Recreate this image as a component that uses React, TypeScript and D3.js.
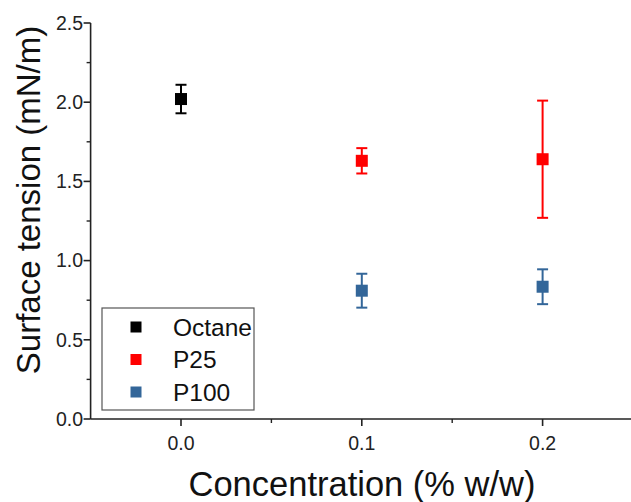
import React from "react";
import * as d3 from "d3";

const seriesNames = ["Octane", "P25", "P100"];
const seriesColors = ["#000000", "#ff0000", "#336699"];
const octaneX = [0.0];
const octaneY = [2.02];
const octaneErr = [0.09];
const p25X = [0.1, 0.2];
const p25Y = [1.63, 1.64];
const p25Err = [0.08, 0.37];
const p100X = [0.1, 0.2];
const p100Y = [0.81, 0.835];
const p100Err = [0.107, 0.11];
const xMajorTicks = [0.0, 0.1, 0.2];
const xMinorTicks = [0.05, 0.15];
const yMajorTicks = [0.0, 0.5, 1.0, 1.5, 2.0, 2.5];
const yMinorTicks = [0.25, 0.75, 1.25, 1.75, 2.25];
const xTitle = "Concentration (% w/w)";
const yTitle = "Surface tension (mN/m)";

const W = 631;
const H = 502;
const FONT = "Arial, 'Liberation Sans', Helvetica, sans-serif";

export default function App() {
  const x = d3.scaleLinear().domain([-0.05, 0.25]).range([90.6, 90.6 + 0.3 * 1808]);
  const y = d3.scaleLinear().domain([0, 2.5]).range([419, 23]);
  const axisColor = "#222";

  const series = [
    { xs: octaneX, ys: octaneY, es: octaneErr },
    { xs: p25X, ys: p25Y, es: p25Err },
    { xs: p100X, ys: p100Y, es: p100Err },
  ];

  const m = 12;
  const cap = 11;

  return (
    <svg width={W} height={H} style={{ position: "absolute", left: 0, top: 0, background: "#fff" }}>
      <rect x={0} y={0} width={W} height={H} fill="#fff" />
      <line x1={x(-0.05)} x2={W} y1={y(0)} y2={y(0)} stroke={axisColor} strokeWidth={1.6} />
      <line x1={x(-0.05)} x2={x(-0.05)} y1={y(0)} y2={y(2.5)} stroke={axisColor} strokeWidth={1.6} />
      {yMajorTicks.map((t) => (
        <g key={"ym" + t}>
          <line x1={x(-0.05) - 7} x2={x(-0.05)} y1={y(t)} y2={y(t)} stroke={axisColor} strokeWidth={1.6} />
          <text x={83} y={y(t)} dy="0.35em" textAnchor="end" fontFamily={FONT} fontSize={19.5} fill="#222">
            {d3.format(".1f")(t)}
          </text>
        </g>
      ))}
      {yMinorTicks.map((t) => (
        <line key={"yn" + t} x1={x(-0.05) - 4} x2={x(-0.05)} y1={y(t)} y2={y(t)} stroke={axisColor} strokeWidth={1.4} />
      ))}
      {xMajorTicks.map((t) => (
        <g key={"xm" + t}>
          <line x1={x(t)} x2={x(t)} y1={y(0)} y2={y(0) + 7} stroke={axisColor} strokeWidth={1.6} />
          <text x={x(t)} y={450} textAnchor="middle" fontFamily={FONT} fontSize={19.5} fill="#222">
            {d3.format(".1f")(t)}
          </text>
        </g>
      ))}
      {xMinorTicks.map((t) => (
        <line key={"xn" + t} x1={x(t)} x2={x(t)} y1={y(0)} y2={y(0) + 4} stroke={axisColor} strokeWidth={1.4} />
      ))}
      <text x={362} y={496} textAnchor="middle" fontFamily={FONT} fontSize={34.5} fill="#111">
        {xTitle}
      </text>
      <text
        transform={`translate(40, 200) rotate(-90)`}
        textAnchor="middle"
        fontFamily={FONT}
        fontSize={33}
        fill="#111"
      >
        {yTitle}
      </text>
      {series.map((s, si) =>
        s.xs.map((xv, i) => {
          const cx = x(xv);
          const cy = y(s.ys[i]);
          const top = y(s.ys[i] + s.es[i]);
          const bot = y(s.ys[i] - s.es[i]);
          const c = seriesColors[si];
          return (
            <g key={si + "-" + i}>
              <line x1={cx} x2={cx} y1={top} y2={bot} stroke={c} strokeWidth={2} />
              <line x1={cx - cap / 2} x2={cx + cap / 2} y1={top} y2={top} stroke={c} strokeWidth={2} />
              <line x1={cx - cap / 2} x2={cx + cap / 2} y1={bot} y2={bot} stroke={c} strokeWidth={2} />
              <rect x={cx - m / 2} y={cy - m / 2} width={m} height={m} fill={c} />
            </g>
          );
        })
      )}
      <rect x={102} y={308} width={152} height={102} fill="#fff" stroke="#555" strokeWidth={1.2} />
      {seriesNames.map((n, i) => {
        const ly = 327 + i * 32.5;
        return (
          <g key={n}>
            <rect x={136 - 5.5} y={ly - 5.5} width={11} height={11} fill={seriesColors[i]} />
            <text x={173} y={ly} dy="0.35em" fontFamily={FONT} fontSize={24.5} fill="#111">
              {n}
            </text>
          </g>
        );
      })}
    </svg>
  );
}
